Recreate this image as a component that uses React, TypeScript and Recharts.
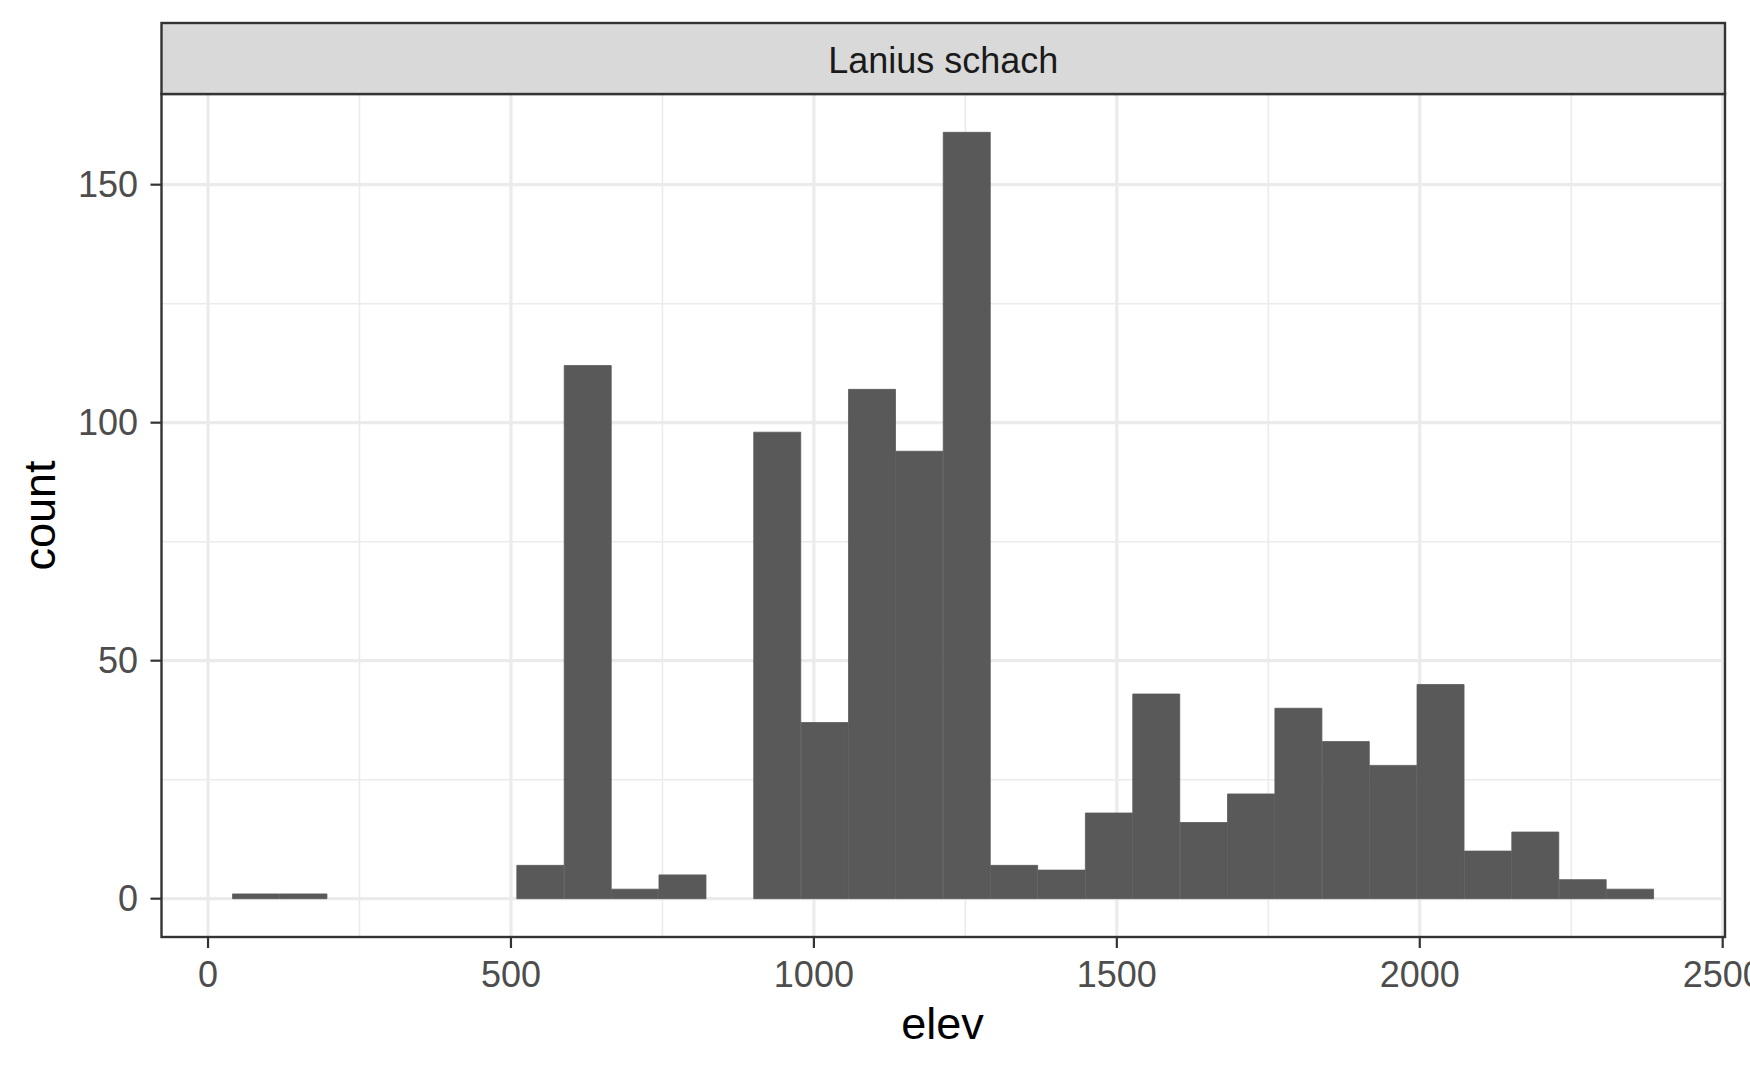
import React from 'react';
import { ComposedChart, Bar, XAxis, YAxis, CartesianGrid, Customized } from 'recharts';

// Histogram bins (centers of 30 bins of elevation) and counts
const binCenters = [
  79.6, 157.8, 236.0, 314.2, 392.4, 470.6, 548.8, 627.0, 705.2, 783.4,
  861.6, 939.8, 1018.0, 1096.2, 1174.4, 1252.6, 1330.8, 1409.0, 1487.2, 1565.4,
  1643.6, 1721.8, 1800.0, 1878.2, 1956.4, 2034.6, 2112.8, 2191.0, 2269.2, 2347.4,
];
const counts = [
  1, 1, 0, 0, 0, 0, 7, 112, 2, 5,
  0, 98, 37, 107, 94, 161, 7, 6, 18, 43,
  16, 22, 40, 33, 28, 45, 10, 14, 4, 2,
];
const xTicks = [0, 500, 1000, 1500, 2000, 2500];
const xMinor = [250, 750, 1250, 1750, 2250];
const yTicks = [0, 50, 100, 150];
const yMinor = [25, 75, 125];
const xDomain = [-76.8, 2503.8];
const yDomain = [-8.05, 169.05];
const panelTitle = 'Lanius schach';
const xTitle = 'elev';
const yTitle = 'count';

const data = binCenters.map((c, i) => ({ elev: c, count: counts[i] }));

const W = 1750;
const H = 1071;
const PL = 161.5;
const PR = 1725;
const PT = 94;
const PB = 937;
const FONT = '"Liberation Sans", Arial, sans-serif';

const Decor = () => (
  <g>
    <rect x={PL} y={PT} width={PR - PL} height={PB - PT} fill="none" stroke="#333333" strokeWidth={2.4} />
    <rect x={PL} y={23} width={PR - PL} height={PT - 23} fill="#D9D9D9" stroke="#333333" strokeWidth={2.4} />
    <text x={(PL + PR) / 2} y={72.7} textAnchor="middle" fontFamily={FONT} fontSize={36} fill="#1A1A1A">
      {panelTitle}
    </text>
    <text x={942.5} y={1039} textAnchor="middle" fontFamily={FONT} fontSize={45} fill="#000000">
      {xTitle}
    </text>
    <text x={55} y={515.5} textAnchor="middle" fontFamily={FONT} fontSize={45} fill="#000000"
      transform="rotate(-90 55 515.5)">
      {yTitle}
    </text>
  </g>
);

export default function App() {
  return (
    <div style={{ position: 'absolute', left: 0, top: 0, width: W, height: H, background: '#fff' }}>
      <ComposedChart
        width={W}
        height={H}
        data={data}
        margin={{ top: PT, right: W - PR, bottom: H - PB - 60, left: 0 }}
        barCategoryGap={0}
        barGap={0}
      >
        <CartesianGrid horizontalValues={yMinor} verticalValues={xMinor} stroke="#EBEBEB" strokeWidth={1.6} />
        <CartesianGrid horizontalValues={yTicks} verticalValues={xTicks} stroke="#EBEBEB" strokeWidth={3.2} />
        <XAxis
          type="number"
          dataKey="elev"
          domain={xDomain}
          allowDataOverflow
          ticks={xTicks}
          height={60}
          axisLine={false}
          tickSize={11}
          tickMargin={13}
          tickLine={{ stroke: '#333333', strokeWidth: 2.2 }}
          tick={{ fill: '#4D4D4D', fontSize: 36, fontFamily: FONT }}
          interval={0}
        />
        <YAxis
          type="number"
          domain={yDomain}
          allowDataOverflow
          ticks={yTicks}
          width={PL}
          axisLine={false}
          tickSize={11}
          tickMargin={12.5}
          tickLine={{ stroke: '#333333', strokeWidth: 2.2 }}
          tick={{ fill: '#4D4D4D', fontSize: 36, fontFamily: FONT }}
          interval={0}
        />
        <Bar dataKey="count" fill="#595959" stroke="#595959" strokeWidth={0.8} isAnimationActive={false} />
        <Customized component={Decor} />
      </ComposedChart>
    </div>
  );
}
